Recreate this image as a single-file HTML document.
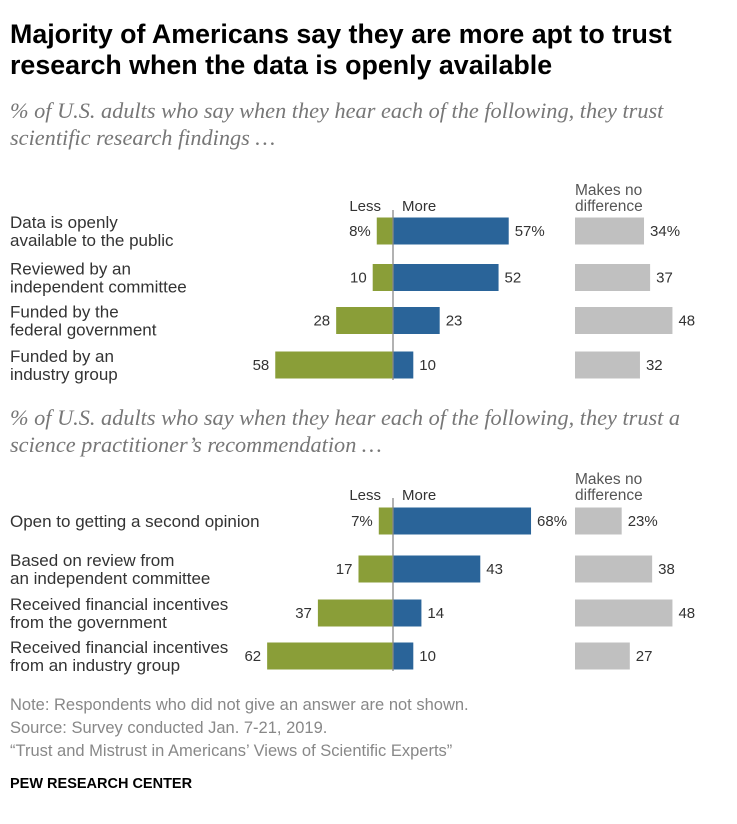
<!DOCTYPE html>
<html><head><meta charset="utf-8"><style>
body{margin:0;background:#fff;font-family:"Liberation Sans",sans-serif;}
#c{position:relative;width:737px;height:824px;overflow:hidden}
.t{position:absolute;left:10px;top:19px;font-size:26.8px;font-weight:bold;color:#000;line-height:31px;width:720px}
.s{position:absolute;left:10px;font-family:"Liberation Serif",serif;font-style:italic;font-size:22.3px;color:#777;line-height:27px;width:705px}
.n{position:absolute;left:10px;font-size:16.5px;color:#888;line-height:19px}
</style></head><body><div id="c">
<div class="t">Majority of Americans say they are more apt to trust research when the data is openly available</div>
<div class="s" style="top:97px">% of U.S. adults who say when they hear each of the following, they trust scientific research findings …</div>
<div class="s" style="top:404px">% of U.S. adults who say when they hear each of the following, they trust a science practitioner’s recommendation …</div>
<div class="n" style="top:696px">Note: Respondents who did not give an answer are not shown.</div>
<div class="n" style="top:719px">Source: Survey conducted Jan. 7-21, 2019.</div>
<div class="n" style="top:742px">“Trust and Mistrust in Americans’ Views of Scientific Experts”</div>
<div style="position:absolute;left:10px;top:776px;font-size:14.5px;font-weight:bold;color:#000">PEW RESEARCH CENTER</div>
<svg id="svg" width="737" height="824" style="position:absolute;left:0;top:0"></svg>
</div>
<script>
const labels1=[["Data is openly","available to the public"],["Reviewed by an","independent committee"],["Funded by the","federal government"],["Funded by an","industry group"]];
const less1=[8,10,28,58];
const more1=[57,52,23,10];
const nodiff1=[34,37,48,32];
const labels2=[["Open to getting a second opinion"],["Based on review from","an independent committee"],["Received financial incentives","from the government"],["Received financial incentives","from an industry group"]];
const less2=[7,17,37,62];
const more2=[68,43,14,10];
const nodiff2=[23,38,48,27];
const svg=document.getElementById('svg');
const NS='http://www.w3.org/2000/svg';
const AX=393,GX=575,K=2.03;
const xs=v=>v*K;
function el(t,a,txt){const e=document.createElementNS(NS,t);for(const k in a)e.setAttribute(k,a[k]);if(txt!==undefined)e.textContent=txt;svg.appendChild(e);return e;}
function txt(x,y,s,anchor,name,fill){const e=el('text',{x:x,y:y,'font-size':15,'text-anchor':anchor||'start',fill:fill||'#333','font-family':'Liberation Sans, sans-serif'},s);

return e;}
function panel(labels,less,more,nd,rows,headY,axTop,axBot){
 txt(381,headY,'Less','end','header-less');
 txt(402,headY,'More','start','header-more');
 txt(575,headY-16,'Makes no','start','header-nodiff',"#555").setAttribute('font-size',15.5);
 txt(575,headY,'difference','start','header-nodiff-2',"#555").setAttribute('font-size',15.5);
 labels.forEach((l,i)=>{
  const cy=rows[i];
  const ys=l.length==1?[cy+6]:[cy-3,cy+15];
  l.forEach((s,j)=>txt(10,ys[j],s,'start','row-label').setAttribute('font-size',17));
  let r=el('rect',{x:AX-xs(less[i]),y:cy-13.5,width:xs(less[i]),height:27,fill:'#8a9e38'});
  
  r=el('rect',{x:AX,y:cy-13.5,width:xs(more[i]),height:27,fill:'#2a6499'});
  
  r=el('rect',{x:GX,y:cy-13.5,width:xs(nd[i]),height:27,fill:'#c0c0c0'});
  
  const p=i==0?'%':'';
  txt(AX-xs(less[i])-6,cy+5,less[i]+p,'end','value-less');
  txt(AX+xs(more[i])+6,cy+5,more[i]+p,'start','value-more');
  txt(GX+xs(nd[i])+6,cy+5,nd[i]+p,'start','value-nodiff');
 });
 const a=el('line',{x1:AX,x2:AX,y1:axTop,y2:axBot,stroke:'#888','stroke-width':1.3});
 
}
panel(labels1,less1,more1,nodiff1,[231,277.5,320.5,365],211,210,380);
panel(labels2,less2,more2,nodiff2,[521,569,613,656],500,498,671);
</script></body></html>
